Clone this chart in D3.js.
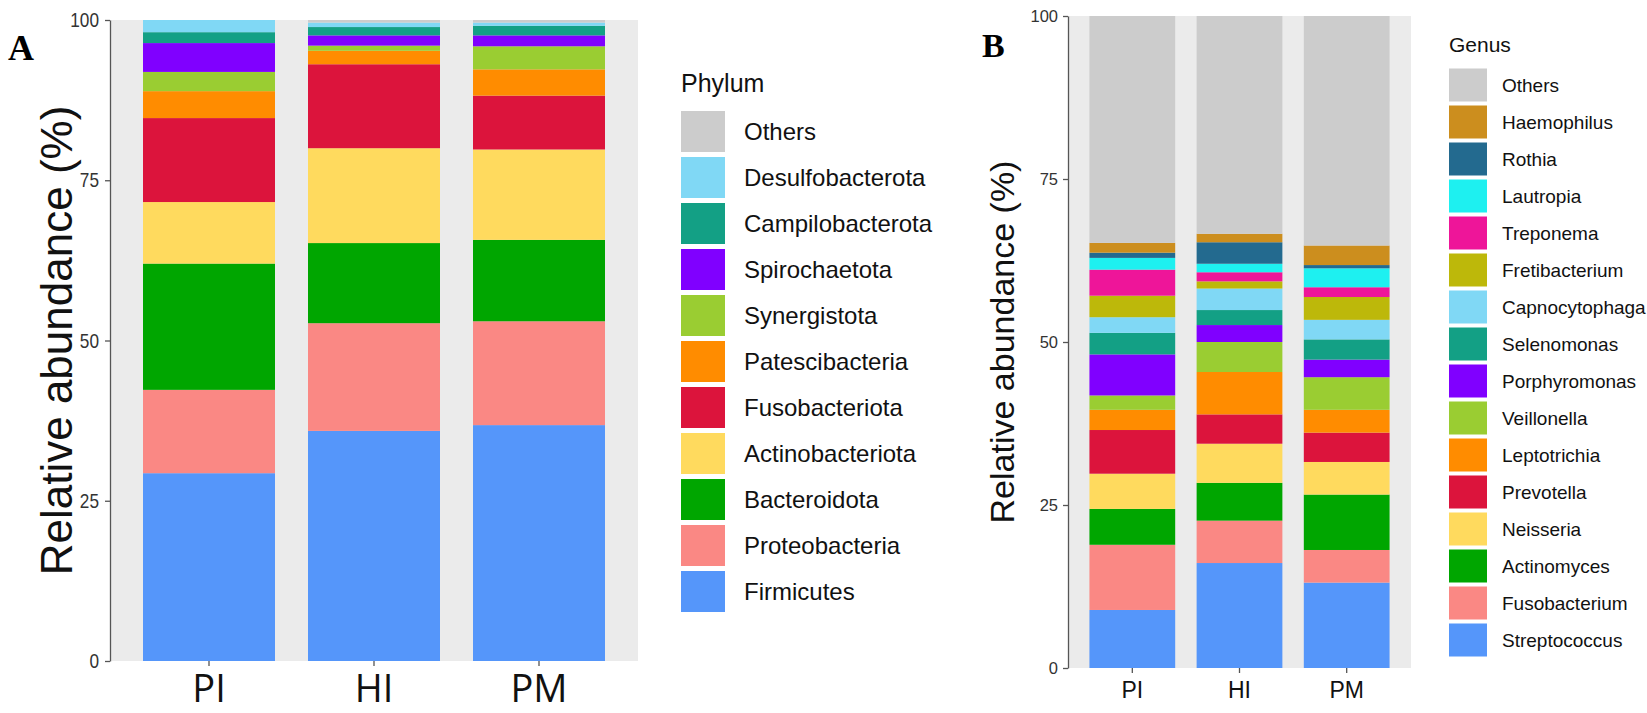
<!DOCTYPE html>
<html>
<head>
<meta charset="utf-8">
<script src="https://cdn.jsdelivr.net/npm/d3@7"></script>
<style>
  html, body { margin: 0; padding: 0; background: #fff; }
  svg { display: block; }
  text { font-family: "Liberation Sans", Arial, sans-serif; }
</style>
</head>
<body>
<svg id="chart" width="1647" height="713"></svg>
<script>
// ---------------- DATA ----------------
const groups = ["PI", "HI", "PM"];
const yTicks = [0, 25, 50, 75, 100];

// Panel A – phylum (bottom -> top of stack)
const phyla = ["Firmicutes", "Proteobacteria", "Bacteroidota", "Actinobacteriota", "Fusobacteriota",
  "Patescibacteria", "Synergistota", "Spirochaetota", "Campilobacterota", "Desulfobacterota", "Others"];
const phylumColors = ["#5596FA", "#FA8884", "#00A600", "#FFDA5E", "#DC143C",
  "#FF8C00", "#9ACD32", "#8000FF", "#13A085", "#80D8F5", "#CCCCCC"];
const phylumPI = [29.3, 13.0, 19.7, 9.6, 13.1, 4.2, 3.0, 4.5, 1.7, 1.9, 0.0];
const phylumHI = [35.9, 16.8, 12.5, 14.8, 13.1, 2.1, 0.8, 1.6, 1.3, 0.7, 0.4];
const phylumPM = [36.8, 16.2, 12.7, 14.1, 8.4, 4.1, 3.6, 1.7, 1.5, 0.5, 0.4];

// Panel B – genus (bottom -> top of stack)
const genera = ["Streptococcus", "Fusobacterium", "Actinomyces", "Neisseria", "Prevotella", "Leptotrichia",
  "Veillonella", "Porphyromonas", "Selenomonas", "Capnocytophaga", "Fretibacterium", "Treponema",
  "Lautropia", "Rothia", "Haemophilus", "Others"];
const genusColors = ["#5596FA", "#FA8884", "#00A600", "#FFDA5E", "#DC143C", "#FF8C00",
  "#9ACD32", "#8000FF", "#13A085", "#80D8F5", "#BDB80A", "#EE1599",
  "#1EF0F0", "#236A8F", "#CC8E1E", "#CCCCCC"];
const genusPI = [8.9, 10.0, 5.5, 5.4, 6.7, 3.1, 2.2, 6.3, 3.3, 2.4, 3.3, 4.0, 1.8, 0.8, 1.5, 34.8];
const genusHI = [16.1, 6.5, 5.8, 6.0, 4.5, 6.5, 4.6, 2.6, 2.3, 3.3, 1.1, 1.4, 1.3, 3.3, 1.3, 33.4];
const genusPM = [13.1, 5.0, 8.5, 5.0, 4.5, 3.5, 5.0, 2.7, 3.1, 3.0, 3.5, 1.5, 2.9, 0.5, 3.0, 35.2];

// ---------------- DRAW ----------------
const svg = d3.select("#chart");

function panel(cfg) {
  const g = svg.append("g");
  const rows = groups.map((grp, i) => {
    const r = { group: grp };
    cfg.keys.forEach((k, j) => { r[k] = cfg.values[i][j]; });
    return r;
  });
  const x = d3.scaleBand().domain(groups).range([cfg.left, cfg.right])
    .paddingInner(0.2).paddingOuter(0.2);
  const y = d3.scaleLinear().domain([0, 100]).range([cfg.bottom, cfg.top]);
  const color = d3.scaleOrdinal().domain(cfg.keys).range(cfg.colors);

  // panel background
  g.append("rect")
    .attr("x", cfg.left).attr("y", cfg.top)
    .attr("width", cfg.right - cfg.left).attr("height", cfg.bottom - cfg.top)
    .attr("fill", "#EBEBEB");

  const series = d3.stack().keys(cfg.keys)(rows);
  g.selectAll("g.layer").data(series).join("g")
    .attr("class", "layer")
    .attr("fill", d => color(d.key))
    .selectAll("rect").data(d => d).join("rect")
    .attr("x", d => x(d.data.group))
    .attr("width", x.bandwidth())
    .attr("y", d => y(d[1]))
    .attr("height", d => Math.max(0, y(d[0]) - y(d[1])));

  // y axis
  const ya = g.append("g")
    .attr("transform", `translate(${cfg.left},0)`)
    .call(d3.axisLeft(y).tickValues(yTicks).tickSize(cfg.tickLen).tickSizeOuter(0).tickPadding(cfg.tickPad));
  ya.select(".domain").attr("stroke", "#555").attr("stroke-width", 1.3);
  ya.selectAll(".tick line").attr("stroke", "#555").attr("stroke-width", 1.3);
  ya.selectAll(".tick text").attr("fill", "#333").style("font-size", cfg.tickFont + "px")
    .style("font-family", "'Liberation Sans', Arial, sans-serif")
    .attr("x", -(cfg.tickLen + cfg.tickPad) / cfg.tickSx)
    .attr("transform", `scale(${cfg.tickSx},1)`);

  // x axis
  const xa = g.append("g")
    .attr("transform", `translate(0,${cfg.bottom})`)
    .call(d3.axisBottom(x).tickSize(cfg.tickLen).tickPadding(cfg.xPad));
  xa.select(".domain").remove();
  xa.selectAll(".tick line").attr("stroke", "#555").attr("stroke-width", 1.3);
  xa.selectAll(".tick text").attr("fill", "#111").style("font-size", cfg.xFont + "px")
    .style("font-family", cfg.xFamily);

  // y title
  g.append("text")
    .attr("transform", `translate(${cfg.titleX},${(cfg.top + cfg.bottom) / 2}) rotate(-90)`)
    .attr("text-anchor", "middle")
    .style("font-size", cfg.titleFont + "px")
    .attr("fill", "#111")
    .text("Relative abundance (%)");

  // panel letter
  g.append("text")
    .attr("x", cfg.letterX).attr("y", cfg.letterY)
    .style("font-family", "'Liberation Serif', 'Times New Roman', serif")
    .style("font-weight", "bold")
    .style("font-size", cfg.letterFont + "px")
    .attr("fill", "#000")
    .text(cfg.letter);

  // legend
  const lg = g.append("g");
  lg.append("text")
    .attr("x", cfg.legX).attr("y", cfg.legTitleY)
    .style("font-size", cfg.legTitleFont + "px")
    .attr("fill", "#111")
    .text(cfg.legTitle);
  const items = cfg.keys.slice().reverse();
  const li = lg.selectAll("g.item").data(items).join("g")
    .attr("class", "item")
    .attr("transform", (d, i) => `translate(${cfg.legX},${cfg.legTop + i * cfg.legPitch})`);
  li.append("rect")
    .attr("width", cfg.keyW).attr("height", cfg.keyH)
    .attr("fill", d => color(d));
  li.append("text")
    .attr("x", cfg.legTextX - cfg.legX)
    .attr("y", cfg.keyH / 2)
    .attr("dy", "0.36em")
    .style("font-size", cfg.legFont + "px")
    .attr("fill", "#111")
    .text(d => d);
}

panel({
  keys: phyla, colors: phylumColors, values: [phylumPI, phylumHI, phylumPM],
  left: 110, right: 638, top: 20, bottom: 661,
  tickLen: 5, tickPad: 6, tickFont: 21, tickSx: 0.82,
  xPad: 9, xFont: 38, xFamily: "'Open Sans', sans-serif",
  titleX: 72, titleFont: 44,
  letter: "A", letterX: 8, letterY: 60, letterFont: 36,
  legTitle: "Phylum", legX: 681, legTitleY: 92, legTitleFont: 25,
  legTop: 111, legPitch: 46, keyW: 44, keyH: 41, legTextX: 744, legFont: 24
});

panel({
  keys: genera, colors: genusColors, values: [genusPI, genusHI, genusPM],
  left: 1068, right: 1411, top: 16, bottom: 668,
  tickLen: 5, tickPad: 5, tickFont: 16.5, tickSx: 1,
  xPad: 9, xFont: 23, xFamily: "'Liberation Sans', Arial, sans-serif",
  titleX: 1014, titleFont: 34,
  letter: "B", letterX: 982, letterY: 57, letterFont: 34,
  legTitle: "Genus", legX: 1449, legTitleY: 52, legTitleFont: 21,
  legTop: 68.5, legPitch: 37, keyW: 38, keyH: 33, legTextX: 1502, legFont: 19
});
</script>
</body>
</html>
